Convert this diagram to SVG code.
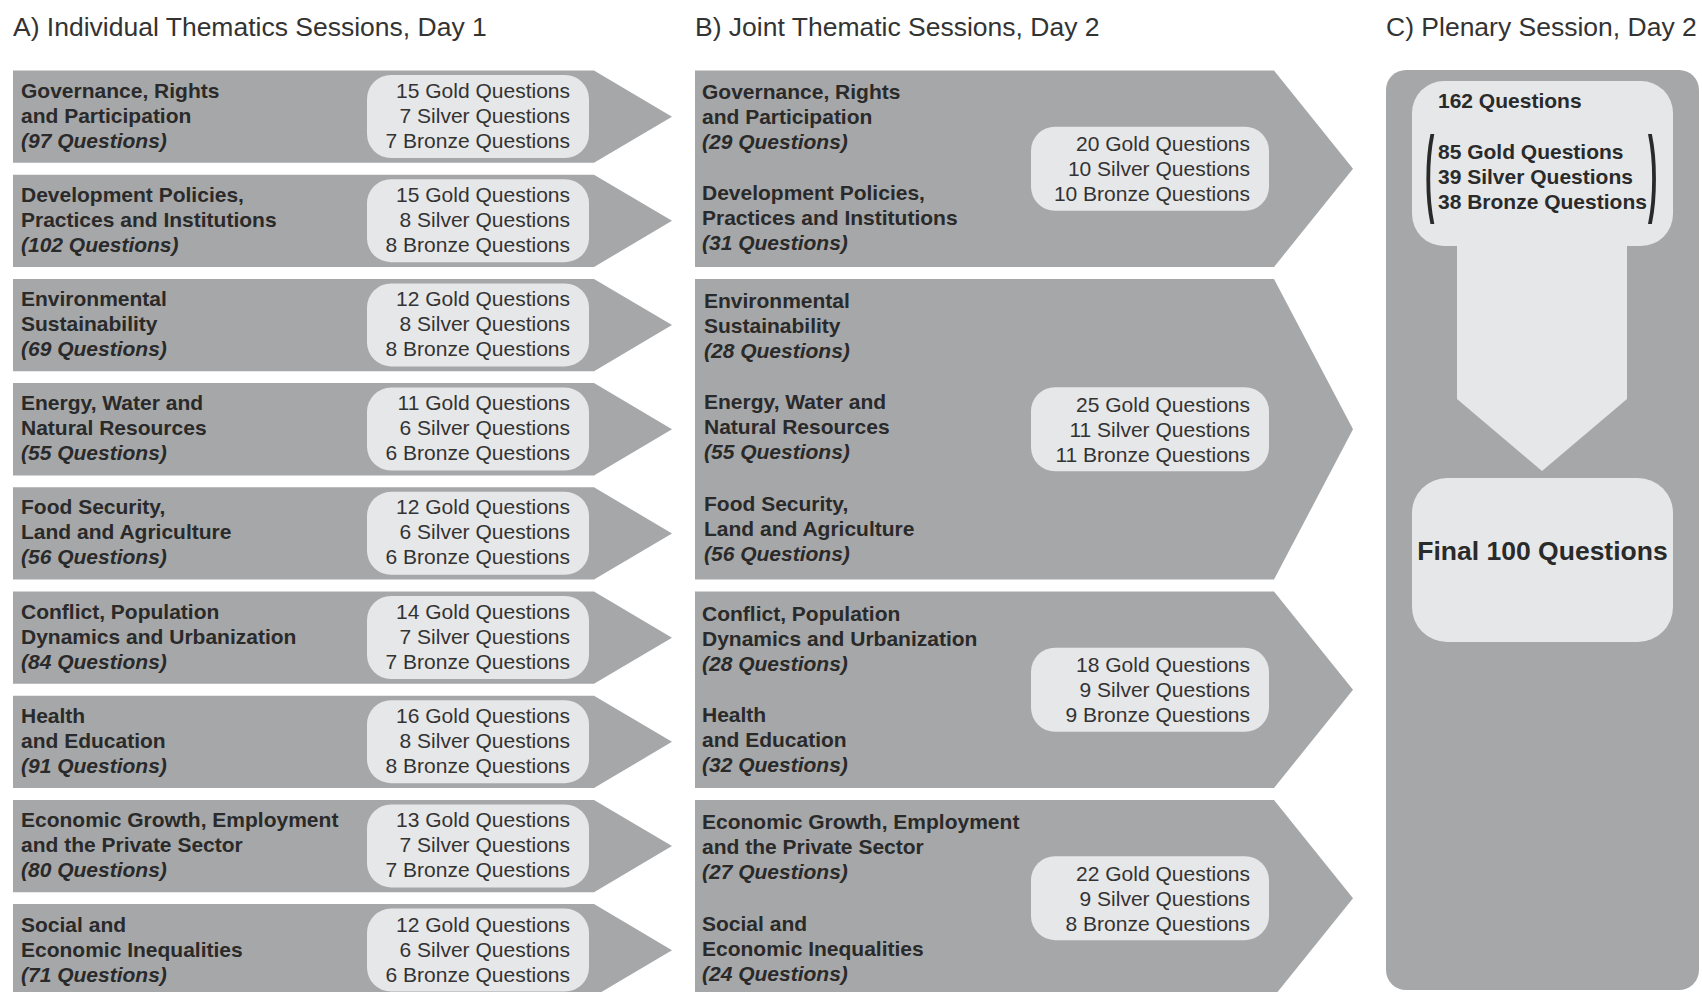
<svg xmlns="http://www.w3.org/2000/svg" width="1702" height="992" viewBox="0 0 1702 992">
<style>
.bg{fill:#ffffff}
.arr{fill:#a6a7a9}
.lite{fill:#e6e7e8}
.title{font-family:"Liberation Sans",Arial,sans-serif;font-size:26.5px;fill:#333333}
.lab{font-family:"Liberation Sans",Arial,sans-serif;font-size:21px;font-weight:bold;fill:#2a2a2a}
.it{font-style:italic}
.cnt{font-family:"Liberation Sans",Arial,sans-serif;font-size:21px;fill:#333333;text-anchor:end}
.cb{font-family:"Liberation Sans",Arial,sans-serif;font-size:21px;font-weight:bold;fill:#2a2a2a}
.fin{font-family:"Liberation Sans",Arial,sans-serif;font-size:26.5px;font-weight:bold;fill:#2a2a2a;text-anchor:middle}
.par{font-family:"Liberation Sans",Arial,sans-serif;font-size:28px;font-weight:bold;fill:#2a2a2a}
</style>
<rect class="bg" x="0" y="0" width="1702" height="992"/>

<g id="titles">
<text class="title" x="13" y="36">A) Individual Thematics Sessions, Day 1</text>
<text class="title" x="695" y="36">B) Joint Thematic Sessions, Day 2</text>
<text class="title" x="1386" y="36">C) Plenary Session, Day 2</text>
</g>

<!-- Column A -->
<g id="a1">
<polygon class="arr" points="13,70.5 594,70.5 672,116.65 594,162.8 13,162.8"/>
<rect class="lite" x="367" y="75" width="222" height="83" rx="24"/>
<text class="lab" x="21" y="97.5">Governance, Rights</text>
<text class="lab" x="21" y="122.5">and Participation</text>
<text class="lab it" x="21" y="147.5">(97 Questions)</text>
<text class="cnt" x="570" y="97.5">15 Gold Questions</text>
<text class="cnt" x="570" y="122.5">7 Silver Questions</text>
<text class="cnt" x="570" y="147.5">7 Bronze Questions</text>
</g>
<g id="a2">
<polygon class="arr" points="13,174.7 594,174.7 672,220.85 594,267 13,267"/>
<rect class="lite" x="367" y="179.2" width="222" height="83" rx="24"/>
<text class="lab" x="21" y="201.7">Development Policies,</text>
<text class="lab" x="21" y="226.7">Practices and Institutions</text>
<text class="lab it" x="21" y="251.7">(102 Questions)</text>
<text class="cnt" x="570" y="201.7">15 Gold Questions</text>
<text class="cnt" x="570" y="226.7">8 Silver Questions</text>
<text class="cnt" x="570" y="251.7">8 Bronze Questions</text>
</g>
<g id="a3">
<polygon class="arr" points="13,278.9 594,278.9 672,325.05 594,371.2 13,371.2"/>
<rect class="lite" x="367" y="283.4" width="222" height="83" rx="24"/>
<text class="lab" x="21" y="305.9">Environmental</text>
<text class="lab" x="21" y="330.9">Sustainability</text>
<text class="lab it" x="21" y="355.9">(69 Questions)</text>
<text class="cnt" x="570" y="305.9">12 Gold Questions</text>
<text class="cnt" x="570" y="330.9">8 Silver Questions</text>
<text class="cnt" x="570" y="355.9">8 Bronze Questions</text>
</g>
<g id="a4">
<polygon class="arr" points="13,383.1 594,383.1 672,429.25 594,475.4 13,475.4"/>
<rect class="lite" x="367" y="387.6" width="222" height="83" rx="24"/>
<text class="lab" x="21" y="410.1">Energy, Water and</text>
<text class="lab" x="21" y="435.1">Natural Resources</text>
<text class="lab it" x="21" y="460.1">(55 Questions)</text>
<text class="cnt" x="570" y="410.1">11 Gold Questions</text>
<text class="cnt" x="570" y="435.1">6 Silver Questions</text>
<text class="cnt" x="570" y="460.1">6 Bronze Questions</text>
</g>
<g id="a5">
<polygon class="arr" points="13,487.3 594,487.3 672,533.45 594,579.6 13,579.6"/>
<rect class="lite" x="367" y="491.8" width="222" height="83" rx="24"/>
<text class="lab" x="21" y="514.3">Food Security,</text>
<text class="lab" x="21" y="539.3">Land and Agriculture</text>
<text class="lab it" x="21" y="564.3">(56 Questions)</text>
<text class="cnt" x="570" y="514.3">12 Gold Questions</text>
<text class="cnt" x="570" y="539.3">6 Silver Questions</text>
<text class="cnt" x="570" y="564.3">6 Bronze Questions</text>
</g>
<g id="a6">
<polygon class="arr" points="13,591.5 594,591.5 672,637.65 594,683.8 13,683.8"/>
<rect class="lite" x="367" y="596" width="222" height="83" rx="24"/>
<text class="lab" x="21" y="618.5">Conflict, Population</text>
<text class="lab" x="21" y="643.5">Dynamics and Urbanization</text>
<text class="lab it" x="21" y="668.5">(84 Questions)</text>
<text class="cnt" x="570" y="618.5">14 Gold Questions</text>
<text class="cnt" x="570" y="643.5">7 Silver Questions</text>
<text class="cnt" x="570" y="668.5">7 Bronze Questions</text>
</g>
<g id="a7">
<polygon class="arr" points="13,695.7 594,695.7 672,741.85 594,788 13,788"/>
<rect class="lite" x="367" y="700.2" width="222" height="83" rx="24"/>
<text class="lab" x="21" y="722.7">Health</text>
<text class="lab" x="21" y="747.7">and Education</text>
<text class="lab it" x="21" y="772.7">(91 Questions)</text>
<text class="cnt" x="570" y="722.7">16 Gold Questions</text>
<text class="cnt" x="570" y="747.7">8 Silver Questions</text>
<text class="cnt" x="570" y="772.7">8 Bronze Questions</text>
</g>
<g id="a8">
<polygon class="arr" points="13,799.9 594,799.9 672,846.05 594,892.2 13,892.2"/>
<rect class="lite" x="367" y="804.4" width="222" height="83" rx="24"/>
<text class="lab" x="21" y="826.9">Economic Growth, Employment</text>
<text class="lab" x="21" y="851.9">and the Private Sector</text>
<text class="lab it" x="21" y="876.9">(80 Questions)</text>
<text class="cnt" x="570" y="826.9">13 Gold Questions</text>
<text class="cnt" x="570" y="851.9">7 Silver Questions</text>
<text class="cnt" x="570" y="876.9">7 Bronze Questions</text>
</g>
<g id="a9">
<polygon class="arr" points="13,904.1 594,904.1 672,950.25 594,996.4 13,996.4"/>
<rect class="lite" x="367" y="908.6" width="222" height="83" rx="24"/>
<text class="lab" x="21" y="931.6">Social and</text>
<text class="lab" x="21" y="956.6">Economic Inequalities</text>
<text class="lab it" x="21" y="981.6">(71 Questions)</text>
<text class="cnt" x="570" y="931.6">12 Gold Questions</text>
<text class="cnt" x="570" y="956.6">6 Silver Questions</text>
<text class="cnt" x="570" y="981.6">6 Bronze Questions</text>
</g>

<!-- Column B -->
<g id="b1">
<polygon class="arr" points="695,70.5 1274,70.5 1353,168.75 1274,267 695,267"/>
<rect class="lite" x="1031" y="126.75" width="238" height="84" rx="24"/>
<text class="lab" x="702" y="99">Governance, Rights</text>
<text class="lab" x="702" y="124">and Participation</text>
<text class="lab it" x="702" y="149">(29 Questions)</text>
<text class="lab" x="702" y="200">Development Policies,</text>
<text class="lab" x="702" y="225">Practices and Institutions</text>
<text class="lab it" x="702" y="250">(31 Questions)</text>
<text class="cnt" x="1250" y="151.25">20 Gold Questions</text>
<text class="cnt" x="1250" y="176.25">10 Silver Questions</text>
<text class="cnt" x="1250" y="201.25">10 Bronze Questions</text>
</g>
<g id="b2">
<polygon class="arr" points="695,278.9 1274,278.9 1353,429.25 1274,579.6 695,579.6"/>
<rect class="lite" x="1031" y="387.25" width="238" height="84" rx="24"/>
<text class="lab" x="704" y="307.5">Environmental</text>
<text class="lab" x="704" y="332.5">Sustainability</text>
<text class="lab it" x="704" y="357.5">(28 Questions)</text>
<text class="lab" x="704" y="409">Energy, Water and</text>
<text class="lab" x="704" y="434">Natural Resources</text>
<text class="lab it" x="704" y="459">(55 Questions)</text>
<text class="lab" x="704" y="510.5">Food Security,</text>
<text class="lab" x="704" y="535.5">Land and Agriculture</text>
<text class="lab it" x="704" y="560.5">(56 Questions)</text>
<text class="cnt" x="1250" y="411.75">25 Gold Questions</text>
<text class="cnt" x="1250" y="436.75">11 Silver Questions</text>
<text class="cnt" x="1250" y="461.75">11 Bronze Questions</text>
</g>
<g id="b3">
<polygon class="arr" points="695,591.5 1274,591.5 1353,689.75 1274,788 695,788"/>
<rect class="lite" x="1031" y="647.75" width="238" height="84" rx="24"/>
<text class="lab" x="702" y="620.5">Conflict, Population</text>
<text class="lab" x="702" y="645.5">Dynamics and Urbanization</text>
<text class="lab it" x="702" y="670.5">(28 Questions)</text>
<text class="lab" x="702" y="722">Health</text>
<text class="lab" x="702" y="747">and Education</text>
<text class="lab it" x="702" y="772">(32 Questions)</text>
<text class="cnt" x="1250" y="672.25">18 Gold Questions</text>
<text class="cnt" x="1250" y="697.25">9 Silver Questions</text>
<text class="cnt" x="1250" y="722.25">9 Bronze Questions</text>
</g>
<g id="b4">
<polygon class="arr" points="695,799.9 1274,799.9 1353,898.15 1274,996.4 695,996.4"/>
<rect class="lite" x="1031" y="856.15" width="238" height="84" rx="24"/>
<text class="lab" x="702" y="829">Economic Growth, Employment</text>
<text class="lab" x="702" y="854">and the Private Sector</text>
<text class="lab it" x="702" y="879">(27 Questions)</text>
<text class="lab" x="702" y="930.5">Social and</text>
<text class="lab" x="702" y="955.5">Economic Inequalities</text>
<text class="lab it" x="702" y="980.5">(24 Questions)</text>
<text class="cnt" x="1250" y="880.65">22 Gold Questions</text>
<text class="cnt" x="1250" y="905.65">9 Silver Questions</text>
<text class="cnt" x="1250" y="930.65">8 Bronze Questions</text>
</g>

<!-- Column C -->
<g id="c-panel">
<rect class="arr" x="1386" y="70" width="313" height="920" rx="20"/>
</g>
<g id="connectors">
<polygon class="lite" points="1457,235 1627,235 1627,399 1542,471 1457,399"/>
</g>
<g id="c-top">
<rect class="lite" x="1412" y="81" width="261" height="165" rx="32"/>
<text class="cb" x="1438" y="108">162 Questions</text>
<text class="par" transform="translate(1425,204) scale(1,3.45)" x="0" y="0">(</text>
<text class="cb" x="1438" y="159">85 Gold Questions</text>
<text class="cb" x="1438" y="184">39 Silver Questions</text>
<text class="cb" x="1438" y="209">38 Bronze Questions</text>
<text class="par" transform="translate(1648,204) scale(1,3.45)" x="0" y="0">)</text>
</g>
<g id="c-final">
<rect class="lite" x="1412" y="478" width="261" height="164" rx="35"/>
<text class="fin" x="1542.5" y="560">Final 100 Questions</text>
</g>
</svg>
